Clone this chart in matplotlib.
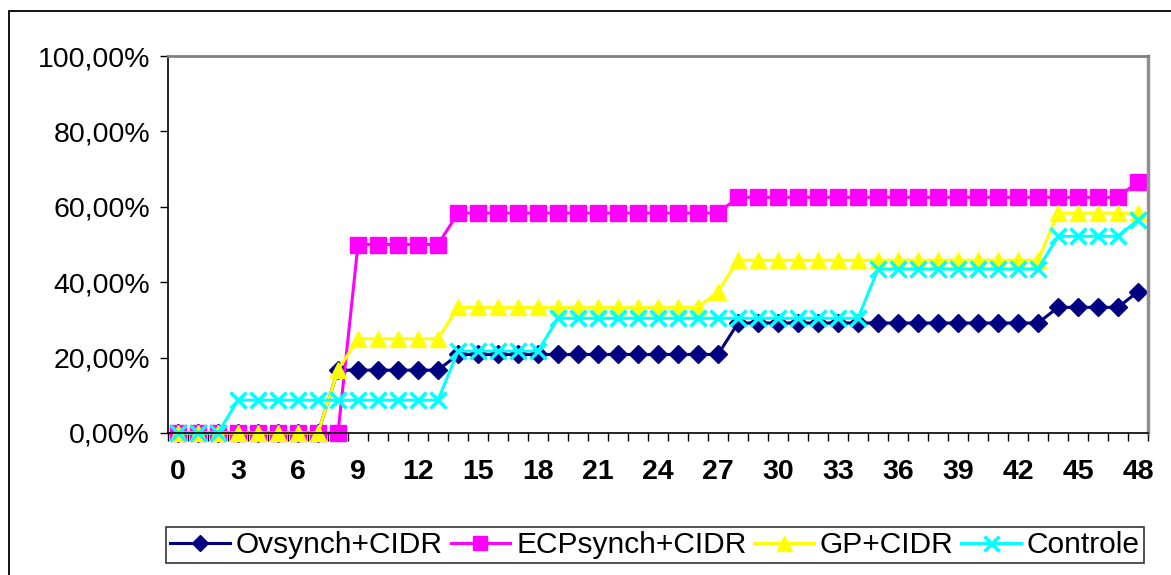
import numpy as np
import matplotlib
matplotlib.use("Agg")
import matplotlib.pyplot as plt
from matplotlib.patches import Rectangle
from matplotlib.ticker import FuncFormatter

plt.rcParams['font.family'] = ['Liberation Sans', 'DejaVu Sans']

# days 0..48, cumulative percentage per group
dias = list(range(49))

ovsynch = [0.0] * 8 + [16.67] * 6 + [20.83] * 14 + [29.17] * 16 + [33.33] * 4 + [37.5]
ecpsynch = [0.0] * 9 + [50.0] * 5 + [58.33] * 14 + [62.5] * 20 + [66.67]
gp = [0.0] * 8 + [16.67] + [25.0] * 5 + [33.33] * 13 + [37.5] + [45.83] * 16 + [58.33] * 5
controle = [0.0] * 3 + [8.7] * 11 + [21.74] * 5 + [30.43] * 16 + [43.48] * 9 + [52.17] * 4 + [56.52]

series = [
    ("Ovsynch+CIDR", ovsynch, "#000080", "D", 9),
    ("ECPsynch+CIDR", ecpsynch, "#FF00FF", "s", 11),
    ("GP+CIDR", gp, "#FFFF00", "^", 12),
    ("Controle", controle, "#00FFFF", "x", 12),
]

W, H = 1171, 575
fig = plt.figure(figsize=(W / 100, H / 100), dpi=100)
ax = fig.add_axes([168 / W, 1 - 433 / H, (1148 - 168) / W, (433 - 56) / H])

for nome, vals, cor, mk, ms in series:
    ax.plot(dias, vals, color=cor, marker=mk, markersize=ms, linewidth=2.2,
            markeredgewidth=2.5 if mk == "x" else 1, label=nome, clip_on=False)

ax.set_xlim(-0.5, 48.5)
ax.set_ylim(0, 100)

ax.set_xticks(np.arange(0, 49, 3))
ax.set_xticklabels([str(d) for d in range(0, 49, 3)], fontsize=20.5, fontweight="bold")
ax.set_xticks(np.arange(-0.5, 49, 1), minor=True)
ax.tick_params(axis="x", which="major", length=0, pad=19)
ax.tick_params(axis="x", which="minor", length=6, width=1, direction="out")

ax.set_yticks(np.arange(0, 101, 20))
ax.yaxis.set_major_formatter(FuncFormatter(lambda v, p: f"{v:.2f}%".replace(".", ",")))
ax.tick_params(axis="y", length=6, width=1, pad=7, labelsize=20.5)

for s in ["left", "bottom"]:
    ax.spines[s].set_color("black")
    ax.spines[s].set_linewidth(1.2)
ax.spines["top"].set_color("#808080")
ax.spines["top"].set_linewidth(2)
ax.spines["right"].set_color("#909090")
ax.spines["right"].set_linewidth(2.5)

# outer chart border
fig.patches.append(Rectangle((9 / W, -0.05), 1.05, 1 - 11 / H + 0.05,
                             transform=fig.transFigure, fill=False,
                             edgecolor="black", linewidth=1.3))

leg = fig.legend(loc="center", bbox_to_anchor=((161 + 1149) / 2 / W, 1 - 545 / H),
                 ncol=4, fontsize=21.5, frameon=True, fancybox=False,
                 handlelength=2.0, handletextpad=0.2, columnspacing=0.25,
                 borderpad=0.15, numpoints=1, markerscale=0.9)
leg.get_frame().set_edgecolor("black")
leg.get_frame().set_linewidth(1.2)

fig.savefig("out.png", dpi=100)
